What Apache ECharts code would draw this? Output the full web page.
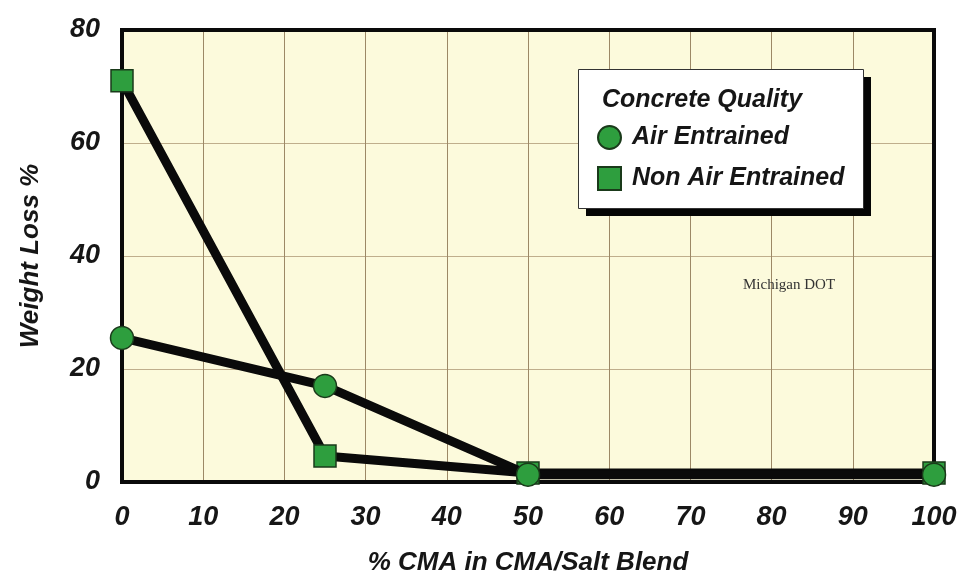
<!DOCTYPE html>
<html><head><meta charset="utf-8">
<script src="https://cdn.jsdelivr.net/npm/echarts@6/dist/echarts.min.js"></script>
<style>html,body{margin:0;padding:0;background:#fff}#c{width:966px;height:581px}</style>
</head><body><div id="c"></div>
<script>
var cmaPercent = [0, 25, 50, 100];
var airEntrained = [25.5, 17, 1.3, 1.3];
var nonAirEntrained = [71, 4.6, 1.6, 1.6];
var xTicks = [0,10,20,30,40,50,60,70,80,90,100];
var yTicks = [0,20,40,60,80];

function pairs(xs, ys){ return xs.map(function(x,i){ return [x, ys[i]]; }); }
var font = {fontFamily:'Liberation Sans', fontStyle:'italic', fontWeight:'bold', color:'#161616'};
var frameLine = {show:true, onZero:false, lineStyle:{color:'#0a0a0a', width:4}};
var chart = echarts.init(document.getElementById('c'));
chart.setOption({
  animation:false,
  backgroundColor:'#ffffff',
  graphic:[
    {type:'rect', left:586, top:77, z:50, shape:{width:285, height:139}, style:{fill:'#050505'}},
    {type:'rect', left:578, top:69, z:51, shape:{width:285, height:139}, style:{fill:'#ffffff', stroke:'#333', lineWidth:1}}
  ],
  title:[
    {text:'Concrete Quality', left:597, top:83, z:60, textStyle:Object.assign({fontSize:25}, font)},
    {text:'Michigan DOT', left:738, top:273, textStyle:{fontFamily:'Liberation Serif', fontSize:15, fontWeight:'normal', color:'#333'}}
  ],
  legend:{
    orient:'vertical', left:597, top:125, z:60,
    padding:0, itemGap:16, itemWidth:23, itemHeight:23,
    textStyle:Object.assign({fontSize:25, padding:[0,0,0,6]}, font),
    data:[{name:'Air Entrained', icon:'circle'},{name:'Non Air Entrained', icon:'rect'}]
  },
  grid:{left:122, right:32, top:30, bottom:98, show:true, backgroundColor:'#fcfadc', borderColor:'#0a0a0a', borderWidth:4},
  xAxis:[{
    type:'value', min:0, max:100, interval:10,
    name:'% CMA in CMA/Salt Blend', nameLocation:'middle', nameGap:68,
    nameTextStyle:Object.assign({fontSize:26}, font),
    axisLine:frameLine, axisTick:{show:false},
    axisLabel:Object.assign({fontSize:27, margin:22, formatter:function(v){return xTicks.indexOf(v)>=0? String(v):'';}}, font),
    splitLine:{show:true, lineStyle:{color:'#9c8866', width:1}}
  },{
    type:'value', position:'top', min:0, max:100, interval:10,
    axisLine:frameLine, axisTick:{show:false}, axisLabel:{show:false}, splitLine:{show:false}
  }],
  yAxis:[{
    type:'value', min:0, max:80, interval:20,
    name:'Weight Loss %', nameLocation:'middle', nameGap:78, nameRotate:90,
    nameTextStyle:Object.assign({fontSize:26}, font),
    axisLine:frameLine, axisTick:{show:false},
    axisLabel:Object.assign({fontSize:27, margin:22, formatter:function(v){return yTicks.indexOf(v)>=0? String(v):'';}}, font),
    splitLine:{show:true, lineStyle:{color:'#bfae8c', width:1}}
  },{
    type:'value', position:'right', min:0, max:80, interval:20,
    axisLine:frameLine, axisTick:{show:false}, axisLabel:{show:false}, splitLine:{show:false}
  }],
  series:[
    {name:'Non Air Entrained', type:'line', xAxisIndex:0, yAxisIndex:0, data:pairs(cmaPercent, nonAirEntrained),
     symbol:'rect', symbolSize:22, lineStyle:{color:'#0a0a0a', width:9},
     itemStyle:{color:'#2e9e3e', borderColor:'#1a3a1a', borderWidth:1.5}, z:3},
    {name:'Air Entrained', type:'line', xAxisIndex:0, yAxisIndex:0, data:pairs(cmaPercent, airEntrained),
     symbol:'circle', symbolSize:23, lineStyle:{color:'#0a0a0a', width:9},
     itemStyle:{color:'#2e9e3e', borderColor:'#1a3a1a', borderWidth:1.5}, z:4}
  ]
});
</script></body></html>
